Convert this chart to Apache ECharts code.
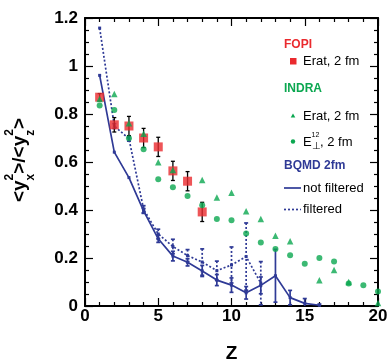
<!DOCTYPE html>
<html>
<head>
<meta charset="utf-8">
<script src="https://cdn.jsdelivr.net/npm/echarts@6/dist/echarts.min.js"></script>
<style>
html,body{margin:0;padding:0;background:#fff;}
#chart{width:388px;height:362px;}
</style>
</head>
<body>
<div id="chart"></div>
<script>
// ---- data ----
const zFopi = [1, 2, 3, 4, 5, 6, 7, 8];
const fopiErat = [0.87, 0.755, 0.75, 0.70, 0.663, 0.563, 0.52, 0.392];
const fopiErr = [0.015, 0.03, 0.04, 0.04, 0.04, 0.04, 0.04, 0.04];

const zIndra = [1, 2, 3, 4, 5, 6, 7, 8, 9, 10, 11, 12, 13, 14, 15, 16, 17, 18, 19, 20];
const indraErat = [0.863, 0.883, 0.761, 0.718, 0.599, 0.567, null, 0.525, 0.452, 0.472, 0.395, 0.3625, 0.293, 0.27, null, 0.107, 0.15, 0.1, null, 0.012];
const indraEperp = [0.835, 0.817, 0.699, 0.653, 0.528, 0.495, 0.458, 0.42, 0.3625, 0.357, 0.302, 0.265, 0.2375, 0.211, 0.176, 0.2, 0.185, 0.094, 0.086, 0.06];

const zNotFiltered = [1, 2, 3, 4, 5, 6, 7, 8, 9, 10, 11, 12, 13, 14, 15, 16];
const bqmdNotFiltered = [0.961, 0.641, 0.535, 0.396, 0.28, 0.208, 0.182, 0.146, 0.108, 0.087, 0.055, 0.086, 0.126, 0.035, 0.011, 0.003];
const bqmdNotFilteredErr = [0, 0, 0, 0.01, 0.015, 0.02, 0.015, 0.023, 0.023, 0.03, 0.026, 0.035, 0.11, 0.03, 0.02, 0.005];

const zFiltered = [1, 2, 3, 4, 5, 6, 7, 8, 9, 10, 11, 12];
const bqmdFiltered = [1.158, 0.75, 0.697, 0.403, 0.3, 0.248, 0.21, 0.183, 0.147, 0.171, 0.206, 0.095];
const bqmdFilteredErr = [0, 0.01, 0.01, 0.015, 0.02, 0.03, 0.025, 0.055, 0.04, 0.075, 0.14, 0.09];

const xTickLabels = ['0', '5', '10', '15', '20'];
const yTickLabels = ['0', '0.2', '0.4', '0.6', '0.8', '1', '1.2'];

// ---- style ----
const RED = '#ea2a2e';
const GREEN = '#0ba750';
const BLUE = '#2f3a96';
const FONT = '"Liberation Sans", Arial, Helvetica, sans-serif';

function pairs(xs, ys) { return xs.map((x, i) => [x, ys[i]]); }
function triples(xs, ys, es) { return xs.map((x, i) => [x, ys[i], es[i]]); }

function errBarSeries(name, data, color, dashed, capHalf, lw) {
  return {
    type: 'custom', name: name, clip: true, z: 3,
    data: data,
    encode: { x: 0, y: 1 },
    renderItem: function (params, api) {
      const x = api.value(0), y = api.value(1), e = api.value(2);
      if (!e) return null;
      const p1 = api.coord([x, y + e]);
      const p2 = api.coord([x, y - e]);
      const style = { stroke: color, lineWidth: lw, lineDash: dashed ? [2, 2] : null };
      const capStyle = { stroke: color, lineWidth: lw };
      return {
        type: 'group',
        children: [
          { type: 'line', shape: { x1: p1[0], y1: p1[1], x2: p2[0], y2: p2[1] }, style: style },
          { type: 'line', shape: { x1: p1[0] - capHalf, y1: p1[1], x2: p1[0] + capHalf, y2: p1[1] }, style: capStyle },
          { type: 'line', shape: { x1: p2[0] - capHalf, y1: p2[1], x2: p2[0] + capHalf, y2: p2[1] }, style: capStyle }
        ]
      };
    }
  };
}

const axisCommon = {
  type: 'value',
  axisLine: { show: true, onZero: false, lineStyle: { color: '#000', width: 2 } },
  splitLine: { show: false },
  axisTick: { show: true, inside: true, length: 8, lineStyle: { color: '#000', width: 1.2 } },
  minorTick: { show: true, length: 4, lineStyle: { color: '#000', width: 1.2 } }
};

const option = {
  animation: false,
  backgroundColor: '#fff',
  grid: { left: 85, right: 10, top: 18, bottom: 56, containLabel: false, outerBoundsMode: 'none' },
  xAxis: [
    Object.assign({}, axisCommon, {
      min: 0, max: 20, interval: 5, position: 'bottom',
      minorTick: Object.assign({}, axisCommon.minorTick, { splitNumber: 5 }),
      axisLabel: {
        margin: 2, color: '#000', fontFamily: FONT, fontWeight: 'bold', fontSize: 17,
        formatter: function (v) { return xTickLabels[Math.round(v / 5)]; }
      },
      name: 'Z', nameLocation: 'middle', nameGap: 38,
      nameTextStyle: { color: '#000', fontFamily: FONT, fontWeight: 'bold', fontSize: 19 }
    }),
    Object.assign({}, axisCommon, {
      min: 0, max: 20, interval: 5, position: 'top',
      minorTick: Object.assign({}, axisCommon.minorTick, { splitNumber: 5 }),
      axisLabel: { show: false }
    })
  ],
  yAxis: [
    Object.assign({}, axisCommon, {
      min: 0, max: 1.2, interval: 0.2, position: 'left',
      minorTick: Object.assign({}, axisCommon.minorTick, { splitNumber: 4 }),
      axisLabel: {
        margin: 7, color: '#000', fontFamily: FONT, fontWeight: 'bold', fontSize: 17,
        formatter: function (v) { return yTickLabels[Math.round(v / 0.2)]; }
      }
    }),
    Object.assign({}, axisCommon, {
      min: 0, max: 1.2, interval: 0.2, position: 'right',
      minorTick: Object.assign({}, axisCommon.minorTick, { splitNumber: 4 }),
      axisLabel: { show: false }
    })
  ],
  series: [
    {
      type: 'line', name: 'not filtered', data: pairs(zNotFiltered, bqmdNotFiltered),
      symbol: 'rect', symbolSize: 3, showSymbol: true,
      lineStyle: { color: BLUE, width: 1.7 }, itemStyle: { color: BLUE }, z: 2
    },
    {
      type: 'line', name: 'filtered', data: pairs(zFiltered, bqmdFiltered),
      symbol: 'rect', symbolSize: 3, showSymbol: true,
      lineStyle: { color: BLUE, width: 1.7, type: [2, 2] }, itemStyle: { color: BLUE }, z: 2
    },
    errBarSeries('nf err', triples(zNotFiltered, bqmdNotFiltered, bqmdNotFilteredErr), BLUE, false, 2, 1.7),
    errBarSeries('f err', triples(zFiltered, bqmdFiltered, bqmdFilteredErr), BLUE, true, 2, 1.7),
    errBarSeries('fopi err', triples(zFopi, fopiErat, fopiErr), '#000', false, 2, 1.3),
    {
      type: 'scatter', name: 'FOPI Erat', data: pairs(zFopi, fopiErat),
      symbol: 'rect', symbolSize: 9, itemStyle: { color: RED }, z: 4
    },
    {
      type: 'scatter', name: 'INDRA Erat', data: pairs(zIndra, indraErat).filter(d => d[1] != null),
      symbol: 'triangle', symbolSize: 6.5, itemStyle: { color: GREEN }, z: 5
    },
    {
      type: 'scatter', name: 'INDRA Eperp', data: pairs(zIndra, indraEperp),
      symbol: 'circle', symbolSize: 6, itemStyle: { color: GREEN }, z: 5
    }
  ],
  graphic: [
    // y-axis title  <y_x^2>/<y_z^2>
    {
      type: 'group', x: 20, y: 160, rotation: Math.PI / 2,
      children: [
        { type: 'text', x: -42, y: 0, style: { text: '<y', font: 'bold 19px ' + FONT, fill: '#000', textAlign: 'left', textVerticalAlign: 'middle' } },
        { type: 'text', x: -20.5, y: -10, style: { text: '2', font: 'bold 12px ' + FONT, fill: '#000', textAlign: 'left', textVerticalAlign: 'middle' } },
        { type: 'text', x: -20.5, y: 10.5, style: { text: 'x', font: 'bold 12px ' + FONT, fill: '#000', textAlign: 'left', textVerticalAlign: 'middle' } },
        { type: 'text', x: -13.8, y: 0, style: { text: '>/<y', font: 'bold 19px ' + FONT, fill: '#000', textAlign: 'left', textVerticalAlign: 'middle' } },
        { type: 'text', x: 24.3, y: -10, style: { text: '2', font: 'bold 12px ' + FONT, fill: '#000', textAlign: 'left', textVerticalAlign: 'middle' } },
        { type: 'text', x: 24.3, y: 10.5, style: { text: 'z', font: 'bold 12px ' + FONT, fill: '#000', textAlign: 'left', textVerticalAlign: 'middle' } },
        { type: 'text', x: 31, y: 0, style: { text: '>', font: 'bold 19px ' + FONT, fill: '#000', textAlign: 'left', textVerticalAlign: 'middle' } }
      ]
    },
    // legend
    { type: 'text', x: 284, y: 45, style: { text: 'FOPI', font: 'bold 12px ' + FONT, fill: RED, textVerticalAlign: 'middle' } },
    { type: 'rect', shape: { x: 290, y: 58, width: 6.5, height: 6.5 }, style: { fill: RED } },
    { type: 'text', x: 303, y: 61.5, style: { text: 'Erat, 2 fm', font: '13px ' + FONT, fill: '#000', textVerticalAlign: 'middle' } },

    { type: 'text', x: 284, y: 89, style: { text: 'INDRA', font: 'bold 12px ' + FONT, fill: GREEN, textVerticalAlign: 'middle' } },
    { type: 'polygon', shape: { points: [[293, 113.5], [295.3, 117.5], [290.7, 117.5]] }, style: { fill: GREEN } },
    { type: 'text', x: 303, y: 116, style: { text: 'Erat, 2 fm', font: '13px ' + FONT, fill: '#000', textVerticalAlign: 'middle' } },

    { type: 'circle', shape: { cx: 293, cy: 141.5, r: 2.2 }, style: { fill: GREEN } },
    { type: 'text', x: 303, y: 142, style: { text: 'E', font: '13px ' + FONT, fill: '#000', textVerticalAlign: 'middle' } },
    { type: 'text', x: 311.5, y: 135, style: { text: '12', font: '7px ' + FONT, fill: '#000', textVerticalAlign: 'middle' } },
    { type: 'text', x: 311.5, y: 146, style: { text: '⊥', font: '10px ' + FONT, fill: '#000', textVerticalAlign: 'middle' } },
    { type: 'text', x: 320, y: 142, style: { text: ', 2 fm', font: '13px ' + FONT, fill: '#000', textVerticalAlign: 'middle' } },

    { type: 'text', x: 284, y: 166, style: { text: 'BQMD 2fm', font: 'bold 12px ' + FONT, fill: BLUE, textVerticalAlign: 'middle' } },
    { type: 'line', shape: { x1: 284, y1: 188, x2: 301, y2: 188 }, style: { stroke: BLUE, lineWidth: 1.7 } },
    { type: 'text', x: 303, y: 188, style: { text: 'not filtered', font: '13px ' + FONT, fill: '#000', textVerticalAlign: 'middle' } },
    { type: 'line', shape: { x1: 284, y1: 209.5, x2: 301, y2: 209.5 }, style: { stroke: BLUE, lineWidth: 1.7, lineDash: [2, 2] } },
    { type: 'text', x: 303, y: 209.5, style: { text: 'filtered', font: '13px ' + FONT, fill: '#000', textVerticalAlign: 'middle' } }
  ]
};

const chart = echarts.init(document.getElementById('chart'), null, { renderer: 'canvas' });
chart.setOption(option);
</script>
</body>
</html>
